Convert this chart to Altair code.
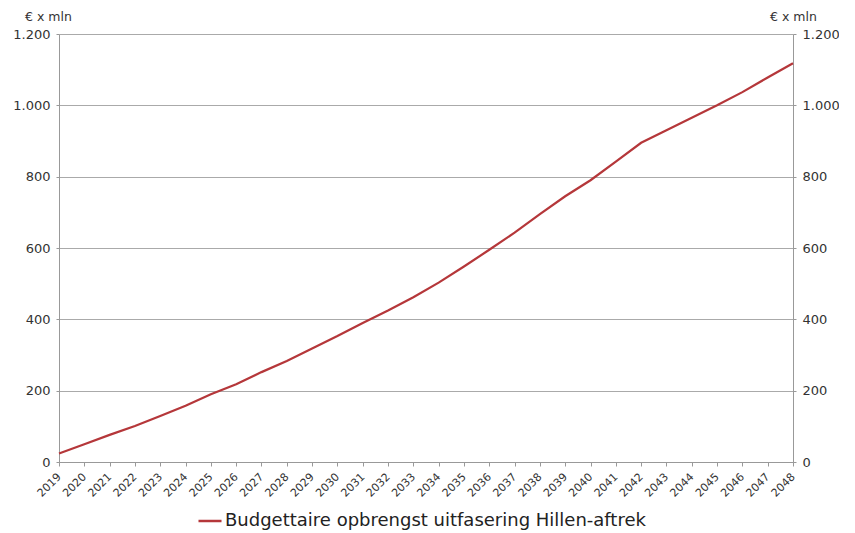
import altair as alt
import pandas as pd

years = [str(y) for y in range(2019, 2049)]
values = [24, 50, 76, 101, 129, 158, 190, 218, 252, 283, 318, 353, 390, 425, 462,
          503, 548, 595, 643, 695, 745, 790, 842, 895, 930, 965, 1000, 1037, 1078, 1118]
series_name = "Budgettaire opbrengst uitfasering Hillen-aftrek"

df = pd.DataFrame({"jaar": years, "waarde": values, "reeks": [series_name] * len(years)})

FONT = "DejaVu Sans"
TXT = "#333333"
label_expr = "replace(format(datum.value, ','), ',', '.')"
y_ticks = [0, 200, 400, 600, 800, 1000, 1200]

x_enc = alt.X(
    "jaar:O",
    scale=alt.Scale(type="point", padding=0),
    axis=alt.Axis(
        title=None, labelAngle=-45, labelAlign="right", labelBaseline="middle",
        labelFontSize=11, labelColor=TXT, labelFont=FONT, labelPadding=9,
        tickColor="#999999", tickSize=4, domainColor="#999999", grid=False,
    ),
)

base = alt.Chart(df)

line = base.mark_line(strokeWidth=2.2).encode(
    x=x_enc,
    y=alt.Y(
        "waarde:Q",
        scale=alt.Scale(domain=[0, 1200]),
        axis=alt.Axis(
            orient="left", values=y_ticks,
            labelExpr=label_expr, labelFontSize=13, labelColor=TXT, labelFont=FONT,
            labelPadding=6, tickSize=3, tickColor="#999999", domainColor="#999999",
            gridColor="#aaaaaa", gridWidth=1,
            title="€ x mln", titleAngle=0, titleX=-11, titleY=-14, titleAlign="center",
            titleBaseline="alphabetic",
            titleFontSize=12.5, titleFontWeight="normal", titleColor=TXT, titleFont=FONT,
        ),
    ),
    color=alt.Color(
        "reeks:N",
        scale=alt.Scale(range=["#b5373a"]),
        legend=alt.Legend(
            title=None, orient="none", legendX=138, legendY=474, symbolType="stroke",
            symbolStrokeWidth=2.5, symbolSize=530, labelOffset=2, labelFontSize=18,
            labelColor="#222222", labelFont=FONT, labelLimit=700,
        ),
    ),
)

right = base.mark_line(opacity=0).encode(
    x=x_enc,
    y=alt.Y(
        "waarde:Q",
        scale=alt.Scale(domain=[0, 1200]),
        axis=alt.Axis(
            orient="right", values=y_ticks,
            labelExpr=label_expr, labelFontSize=13, labelColor=TXT, labelFont=FONT,
            labelPadding=6, tickSize=3, tickColor="#999999", domainColor="#999999",
            grid=False,
            title="€ x mln", titleAngle=0, titleX=0, titleY=-14, titleAlign="center",
            titleBaseline="alphabetic",
            titleFontSize=12.5, titleFontWeight="normal", titleColor=TXT, titleFont=FONT,
        ),
    ),
)

chart = (
    alt.layer(line, right)
    .resolve_scale(y="independent")
    .properties(
        width=734, height=428,
        autosize=alt.AutoSizeParams(type="none"),
        padding={"left": 51, "top": 26, "right": 46, "bottom": 70},
        background="white",
    )
    .configure_view(stroke=None)
)

chart.save("out.html", embed_options={"renderer": "svg", "actions": False})
